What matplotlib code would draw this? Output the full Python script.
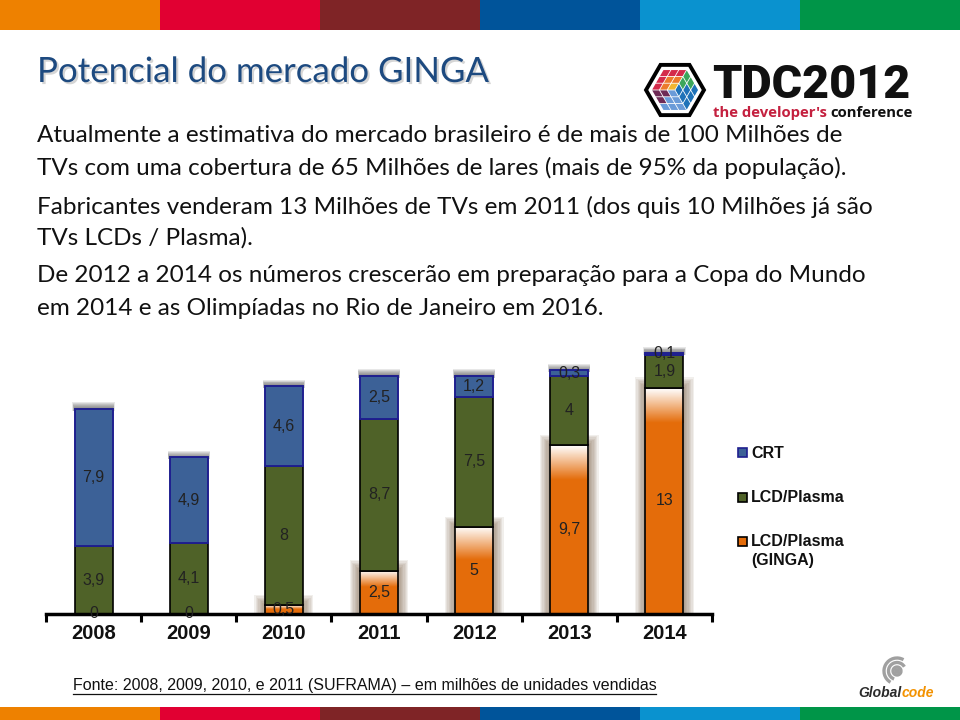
import matplotlib.pyplot as plt
import matplotlib.patheffects as pe
import numpy as np
from matplotlib.patches import Rectangle, Polygon, Arc, Circle
from matplotlib.colors import LinearSegmentedColormap

### Data
years = ["2008", "2009", "2010", "2011", "2012", "2013", "2014"]
crt = [7.9, 4.9, 4.6, 2.5, 1.2, 0.3, 0.1]
lcd = [3.9, 4.1, 8, 8.7, 7.5, 4, 1.9]
ginga = [0, 0, 0.5, 2.5, 5, 9.7, 13]
series = ["CRT", "LCD/Plasma", "LCD/Plasma\n(GINGA)"]

title = "Potencial do mercado GINGA"
body = [
    "Atualmente a estimativa do mercado brasileiro é de mais de 100 Milhões de",
    "TVs com uma cobertura de 65 Milhões de lares (mais de 95% da população).",
    "Fabricantes venderam 13 Milhões de TVs em 2011 (dos quis 10 Milhões já são",
    "TVs LCDs / Plasma).",
    "De 2012 a 2014 os números crescerão em preparação para a Copa do Mundo",
    "em 2014 e as Olimpíadas no Rio de Janeiro em 2016.",
]
source = "Fonte: 2008, 2009, 2010, e 2011 (SUFRAMA) – em milhões de unidades vendidas"

### Style
stripe_colors = ["#EE8100", "#E10032", "#7F2426", "#00549A", "#0A92CF", "#009548"]
C_CRT = "#3C6197"
C_CRT_EDGE = "#1F1F8F"
C_LCD = "#4F6228"
C_GINGA = "#E46C0A"
TITLE_BLUE = "#1D4A80"
ARIAL = ["Liberation Sans", "DejaVu Sans"]

fig = plt.figure(figsize=(9.6, 7.2), dpi=100)
renderer = fig.canvas.get_renderer()

# background axes in pixel coordinates (y down)
bg = fig.add_axes([0, 0, 1, 1])
bg.set_xlim(0, 960)
bg.set_ylim(720, 0)
bg.axis("off")


def fit(t, width):
    w = t.get_window_extent(renderer).width
    t.set_fontsize(t.get_fontsize() * width / w)
    return t


def text_run(x, y, parts, width, size, gap=0.0, **kw):
    texts = [bg.text(x, y, s, color=c, fontsize=size, va="baseline", **kw) for s, c in parts]
    total = sum(t.get_window_extent(renderer).width for t in texts) + gap * size * (len(texts) - 1)
    scale = width / total
    cx = x
    for t in texts:
        t.set_fontsize(size * scale)
        t.set_x(cx)
        cx += t.get_window_extent(renderer).width + gap * size * scale
    return texts


## stripes top and bottom
for i, c in enumerate(stripe_colors):
    bg.add_patch(Rectangle((i * 160, 0), 160, 30, color=c, lw=0))
    bg.add_patch(Rectangle((i * 160, 707), 160, 13, color=c, lw=0))

## title + body
t = bg.text(37, 82, title, fontsize=28, family="Lato", color=TITLE_BLUE, va="baseline",
            path_effects=[pe.withSimplePatchShadow(offset=(1.5, -1.5), shadow_rgbFace="#888888", alpha=0.35)])
fit(t, 452)

body_base = [142, 175, 214, 245, 282, 315]
probe = bg.text(37, body_base[2], body[2], fontsize=16, family="Lato", va="baseline")
fit(probe, 839)
body_size = probe.get_fontsize()
probe.remove()
for line, yb in zip(body, body_base):
    bg.text(37, yb, line, fontsize=body_size, family="Lato", color="#111111", va="baseline")

## TDC logo
cx, cy, R = 675, 90, 29
hexv = [(cx + R * np.cos(np.radians(60 * k)), cy - R * np.sin(np.radians(60 * k))) for k in range(6)]
bg.add_patch(Polygon(hexv, closed=True, facecolor="white", edgecolor="black", lw=2.8))
r = 23.5
v = [np.array([cx + r * np.cos(np.radians(60 * k)), cy - r * np.sin(np.radians(60 * k))]) for k in range(6)]
c0 = np.array([cx, cy])


def face(k0, k2, colfun):
    a = v[k0] - c0
    b = v[k2] - c0
    for i in range(3):
        for j in range(3):
            s0, s1 = i / 3 + 0.02, (i + 1) / 3 - 0.02
            t0, t1 = j / 3 + 0.02, (j + 1) / 3 - 0.02
            pts = [c0 + a * s0 + b * t0, c0 + a * s1 + b * t0, c0 + a * s1 + b * t1, c0 + a * s0 + b * t1]
            bg.add_patch(Polygon(pts, closed=True, facecolor=colfun(i, j), lw=0))


face(1, 3, lambda i, j: ["#F2B632", "#EC7A2B", "#D42A4A"][max(i, j)])
face(5, 1, lambda i, j: "#3BA65B" if j > i else "#1E72B8")
face(3, 5, lambda i, j: "#6E2A55" if i > j else "#6A9BD8")

t = bg.text(712, 98, "TDC2012", family="Roboto", fontweight="heavy", fontsize=30, va="baseline", color="#111111")
fit(t, 198)
text_run(713, 117, [("the developer's", "#C4203F"), ("conference", "#111111")], 199, 11,
         gap=0.28, family="Open Sans", fontweight="bold")

## Globalcode logo
gx, gy = 897, 671
for rad, th1, th2 in [(4, 0, 360), (8.5, 110, 330), (13, 120, 300)]:
    bg.add_patch(Arc((gx, gy), 2 * rad, 2 * rad, theta1=th1, theta2=th2, color="#A0A0A0", lw=2.4))
bg.add_patch(Circle((gx, gy), 2.2, color="#A0A0A0"))
text_run(858, 697, [("Global", "#2B2B2B"), ("code", "#F39200")], 76, 10,
         family=ARIAL, fontweight="bold", style="italic")

## footnote
t = bg.text(73, 690, source, family=["Liberation Sans Narrow", "Liberation Sans"], fontsize=11,
            color="#111111", va="baseline")
fit(t, 583)
bg.plot([73, 656], [693.5, 693.5], color="#111111", lw=0.9)

## legend
leg_y = [452, 497, 541]
leg_face = [C_CRT, C_LCD, C_GINGA]
leg_edge = [C_CRT_EDGE, "black", "black"]
for name, fc, ec, yy in zip(series, leg_face, leg_edge, leg_y):
    bg.add_patch(Rectangle((738, yy - 4.5), 9, 9, facecolor=fc, edgecolor=ec, lw=1.2))
    for k, part in enumerate(name.split("\n")):
        bg.text(751, yy + 5.5 + 19 * k, part, family=ARIAL, fontsize=11.5, fontweight="bold",
                color="#111111", va="baseline")

### Chart
px_unit = 17.4
ax = fig.add_axes([46 / 960, 106 / 720, 666 / 960, 16 * px_unit / 720])
ax.patch.set_visible(False)
x = np.arange(len(years))
w = 0.4
g = np.array(ginga)
l = np.array(lcd)
c = np.array(crt)
dx = 7 / 666
dy = 1 / px_unit

# soft shadows
for xi, tp in zip(x, g + l + c):
    for k in range(1, 8):
        ax.add_patch(Rectangle((xi - w / 2 - k * 0.3 * dx, tp - 2 * dy), w + 0.6 * k * dx, (2 + 0.9 * k) * dy,
                               color="#555555", alpha=0.14, lw=0, zorder=2))
for xi, vv in zip(x, g):
    if vv <= 0:
        continue
    for k in range(1, 9):
        m = 1.3 * k
        ax.add_patch(Rectangle((xi - w / 2 - m * dx, 0), w + 2 * m * dx, vv + m * dy,
                               color="#7D6448", alpha=0.1, lw=0, zorder=2))

ax.bar(x, g, w, color=C_GINGA, lw=0, zorder=3)
fade = LinearSegmentedColormap.from_list("fade", ["white", C_GINGA])
for xi, vv in zip(x, g):
    if vv <= 0:
        continue
    gh = min(2.0, 0.38 * vv)
    ax.imshow(np.linspace(0, 1, 64)[:, None], cmap=fade, origin="upper", aspect="auto",
              extent=[xi - w / 2, xi + w / 2, vv - gh, vv], interpolation="bilinear", zorder=3.5)
ax.bar(x, g, w, fill=False, edgecolor="black", lw=1.2, zorder=4)
ax.bar(x, l, w, bottom=g, color=C_LCD, edgecolor="black", lw=1.2, zorder=4)
ax.bar(x, c, w, bottom=g + l, color=C_CRT, edgecolor=C_CRT_EDGE, lw=1.4, zorder=4)

# value labels
for vals, bottoms in [(g, np.zeros_like(g)), (l, g), (c, g + l)]:
    for xi, vv, b in zip(x, vals, bottoms):
        ax.text(xi, b + vv / 2, f"{vv:g}".replace(".", ","), ha="center", va="center",
                fontsize=11.5, family=ARIAL, color="#222222", zorder=6)

ax.set_xlim(-0.5, 6.5)
ax.set_ylim(0, 16)
for s in ["left", "top", "right"]:
    ax.spines[s].set_visible(False)
ax.spines["bottom"].set_linewidth(2.5)
ax.spines["bottom"].set_zorder(5)
ax.set_yticks([])
ax.set_xticks(x, years, fontsize=14.5, fontweight="bold", family=ARIAL, color="#111111")
ax.tick_params(axis="x", which="major", length=0, pad=7)
ax.set_xticks(np.arange(-0.5, 7), minor=True)
ax.tick_params(axis="x", which="minor", length=6, width=2.2, direction="out")

fig.savefig("out.png", dpi=100)
